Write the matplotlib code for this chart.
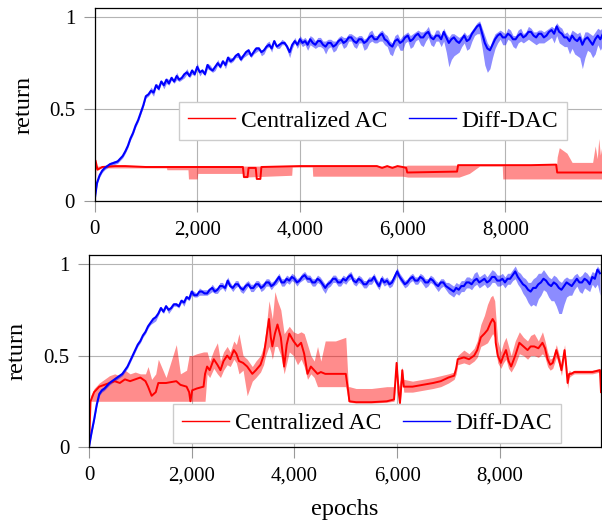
import matplotlib
matplotlib.use("Agg")
import matplotlib.pyplot as plt
import numpy as np

# ---------------- data ----------------
xticks = [0, 2000, 4000, 6000, 8000]
xtick_labels = ["0", "2,000", "4,000", "6,000", "8,000"]
yticks = [0, 0.5, 1]
ytick_labels = ["0", "0.5", "1"]
series_names = ["Centralized AC", "Diff-DAC"]

# Diff-DAC epochs (every 50)
blue_epochs = list(range(0, 10000, 50))

# ---- top panel, Diff-DAC ----
top_blue_mean = [
    0.00, 0.10, 0.14, 0.165, 0.18, 0.19, 0.20, 0.205, 0.21, 0.215,
    0.23, 0.245, 0.27, 0.30, 0.34, 0.37, 0.41, 0.44, 0.48, 0.52,
    0.57, 0.58, 0.60, 0.59, 0.63, 0.61, 0.65, 0.63, 0.66, 0.64,
    0.67, 0.65, 0.68, 0.66, 0.67, 0.69, 0.70, 0.68, 0.71, 0.69,
    0.73, 0.70, 0.71, 0.69, 0.74, 0.72, 0.71, 0.73, 0.75, 0.73,
    0.76, 0.74, 0.78, 0.76, 0.77, 0.79, 0.80, 0.77, 0.79, 0.81,
    0.82, 0.79, 0.81, 0.83, 0.83, 0.81, 0.82, 0.84, 0.85, 0.83,
    0.87, 0.84, 0.85, 0.86, 0.86, 0.84, 0.81, 0.85, 0.87, 0.85,
    0.88, 0.86, 0.87, 0.85, 0.88, 0.86, 0.85, 0.87, 0.87, 0.85,
    0.84, 0.86, 0.86, 0.84, 0.85, 0.87, 0.88, 0.86, 0.87, 0.89,
    0.89, 0.87, 0.86, 0.88, 0.88, 0.86, 0.87, 0.89, 0.90, 0.88,
    0.88, 0.90, 0.91, 0.88, 0.87, 0.85, 0.84, 0.87, 0.88, 0.86,
    0.87, 0.89, 0.90, 0.87, 0.88, 0.90, 0.91, 0.89, 0.89, 0.91,
    0.92, 0.89, 0.88, 0.90, 0.90, 0.88, 0.92, 0.89, 0.86, 0.88,
    0.89, 0.87, 0.86, 0.88, 0.90, 0.87, 0.88, 0.91, 0.93, 0.95,
    0.96, 0.91, 0.86, 0.83, 0.82, 0.85, 0.88, 0.90, 0.91, 0.89,
    0.89, 0.91, 0.90, 0.88, 0.88, 0.90, 0.91, 0.89, 0.90, 0.92,
    0.92, 0.90, 0.89, 0.91, 0.91, 0.89, 0.90, 0.92, 0.93, 0.91,
    0.95, 0.92, 0.91, 0.89, 0.89, 0.87, 0.90, 0.88, 0.87, 0.89,
    0.85, 0.88, 0.89, 0.87, 0.85, 0.88, 0.90, 0.88, 0.91, 0.90]
top_blue_down = [
    0.00, 0.01, 0.01, 0.01, 0.01, 0.01, 0.01, 0.01, 0.01, 0.01,
    0.01, 0.01, 0.01, 0.01, 0.01, 0.01, 0.01, 0.01, 0.01, 0.01,
    0.01, 0.01, 0.01, 0.02, 0.01, 0.01, 0.01, 0.02, 0.02, 0.01,
    0.01, 0.01, 0.02, 0.01, 0.01, 0.02, 0.01, 0.01, 0.02, 0.01,
    0.01, 0.02, 0.01, 0.01, 0.02, 0.01, 0.01, 0.02, 0.01, 0.01,
    0.01, 0.02, 0.02, 0.01, 0.01, 0.01, 0.02, 0.01, 0.01, 0.02,
    0.02, 0.01, 0.01, 0.02, 0.01, 0.02, 0.02, 0.01, 0.01, 0.02,
    0.01, 0.01, 0.02, 0.01, 0.01, 0.02, 0.03, 0.02, 0.01, 0.02,
    0.02, 0.02, 0.02, 0.03, 0.03, 0.02, 0.02, 0.03, 0.03, 0.02,
    0.04, 0.03, 0.02, 0.03, 0.03, 0.02, 0.02, 0.03, 0.03, 0.02,
    0.02, 0.03, 0.03, 0.02, 0.02, 0.04, 0.04, 0.03, 0.03, 0.02,
    0.02, 0.03, 0.04, 0.03, 0.03, 0.05, 0.05, 0.04, 0.03, 0.04,
    0.05, 0.03, 0.03, 0.04, 0.04, 0.03, 0.03, 0.04, 0.05, 0.04,
    0.03, 0.04, 0.04, 0.03, 0.03, 0.04, 0.05, 0.08, 0.13, 0.11,
    0.10, 0.07, 0.05, 0.04, 0.04, 0.05, 0.05, 0.04, 0.03, 0.04,
    0.05, 0.08, 0.12, 0.13, 0.10, 0.07, 0.05, 0.04, 0.03, 0.04,
    0.04, 0.03, 0.03, 0.04, 0.05, 0.04, 0.04, 0.03, 0.03, 0.04,
    0.05, 0.04, 0.04, 0.05, 0.05, 0.03, 0.03, 0.04, 0.04, 0.05,
    0.05, 0.06, 0.06, 0.05, 0.05, 0.07, 0.07, 0.08, 0.08, 0.11,
    0.13, 0.10, 0.07, 0.06, 0.07, 0.08, 0.05, 0.06, 0.06, 0.05]
top_blue_up = [
    0.00, 0.01, 0.01, 0.01, 0.01, 0.01, 0.01, 0.01, 0.01, 0.01,
    0.01, 0.01, 0.01, 0.01, 0.01, 0.01, 0.01, 0.01, 0.01, 0.01,
    0.01, 0.01, 0.02, 0.01, 0.01, 0.02, 0.01, 0.01, 0.01, 0.02,
    0.01, 0.01, 0.02, 0.01, 0.01, 0.01, 0.02, 0.01, 0.01, 0.01,
    0.02, 0.01, 0.01, 0.01, 0.01, 0.02, 0.01, 0.01, 0.02, 0.01,
    0.01, 0.01, 0.01, 0.02, 0.01, 0.01, 0.01, 0.02, 0.01, 0.01,
    0.01, 0.01, 0.02, 0.01, 0.01, 0.01, 0.01, 0.02, 0.02, 0.01,
    0.01, 0.01, 0.01, 0.02, 0.01, 0.01, 0.01, 0.01, 0.02, 0.01,
    0.02, 0.02, 0.02, 0.02, 0.02, 0.03, 0.02, 0.02, 0.02, 0.02,
    0.03, 0.02, 0.02, 0.03, 0.02, 0.02, 0.02, 0.03, 0.02, 0.02,
    0.02, 0.03, 0.03, 0.02, 0.02, 0.02, 0.02, 0.03, 0.03, 0.02,
    0.02, 0.02, 0.02, 0.03, 0.03, 0.02, 0.02, 0.03, 0.03, 0.02,
    0.03, 0.02, 0.02, 0.03, 0.03, 0.02, 0.02, 0.03, 0.03, 0.02,
    0.03, 0.02, 0.02, 0.03, 0.03, 0.02, 0.02, 0.02, 0.03, 0.03,
    0.02, 0.03, 0.03, 0.02, 0.02, 0.03, 0.03, 0.02, 0.02, 0.02,
    0.02, 0.03, 0.04, 0.03, 0.02, 0.03, 0.03, 0.02, 0.02, 0.03,
    0.02, 0.03, 0.03, 0.02, 0.02, 0.03, 0.03, 0.02, 0.02, 0.03,
    0.02, 0.02, 0.03, 0.02, 0.02, 0.03, 0.03, 0.02, 0.02, 0.03,
    0.02, 0.03, 0.03, 0.02, 0.03, 0.03, 0.03, 0.04, 0.04, 0.03,
    0.03, 0.04, 0.03, 0.04, 0.05, 0.04, 0.04, 0.05, 0.04, 0.05]

# ---- top panel, Centralized AC ----
top_red_x = [0, 20, 60, 150, 400, 600, 1000, 2890, 2910, 2980, 3000, 3140,
             3160, 3230, 3250, 4000, 5500, 5600, 5700, 5800, 5900, 6000,
             6070, 6090, 7060, 7080, 8500, 8990, 9010, 9970]
top_red_mean = [0.00, 0.22, 0.17, 0.185, 0.19, 0.19, 0.185, 0.185, 0.13, 0.13,
                0.18, 0.18, 0.12, 0.12, 0.185, 0.19, 0.19, 0.18, 0.19, 0.18,
                0.19, 0.185, 0.18, 0.155, 0.16, 0.195, 0.195, 0.198, 0.155, 0.155]
top_red_band_x = [0, 60, 1400, 1410, 1820, 1830, 2000, 2010, 2900, 2910, 3840,
                  3850, 4240, 4250, 6000, 6100, 7100, 7300, 7500, 7940, 7950,
                  9000, 9010, 9050, 9100, 9200, 9300, 9500, 9700, 9750, 9790,
                  9820, 9850, 9900, 9970]
top_red_lo = [0.00, 0.18, 0.18, 0.17, 0.17, 0.12, 0.12, 0.15, 0.15, 0.13, 0.14,
              0.185, 0.185, 0.135, 0.135, 0.13, 0.13, 0.15, 0.19, 0.19, 0.12,
              0.12, 0.12, 0.12, 0.12, 0.12, 0.12, 0.12, 0.12, 0.12, 0.12,
              0.12, 0.12, 0.12, 0.12]
top_red_hi = [0.00, 0.19, 0.19, 0.19, 0.19, 0.19, 0.19, 0.19, 0.19, 0.19, 0.19,
              0.19, 0.19, 0.19, 0.19, 0.195, 0.195, 0.195, 0.195, 0.198, 0.198,
              0.20, 0.24, 0.29, 0.28, 0.26, 0.21, 0.21, 0.21, 0.30, 0.23,
              0.34, 0.25, 0.33, 0.26]

# ---- bottom panel, Diff-DAC ----
bot_blue_mean = [
    0.00, 0.08, 0.15, 0.23, 0.29, 0.31, 0.32, 0.335, 0.35, 0.36,
    0.37, 0.38, 0.39, 0.40, 0.42, 0.44, 0.47, 0.50, 0.53, 0.56,
    0.58, 0.61, 0.63, 0.66, 0.68, 0.70, 0.71, 0.73, 0.76, 0.74,
    0.77, 0.75, 0.76, 0.78, 0.78, 0.77, 0.80, 0.79, 0.82, 0.81,
    0.85, 0.83, 0.83, 0.85, 0.85, 0.84, 0.84, 0.86, 0.87, 0.85,
    0.86, 0.88, 0.88, 0.87, 0.91, 0.88, 0.87, 0.89, 0.89, 0.87,
    0.86, 0.88, 0.89, 0.87, 0.87, 0.89, 0.89, 0.87, 0.88, 0.90,
    0.90, 0.88, 0.89, 0.91, 0.93, 0.90, 0.90, 0.92, 0.91, 0.93,
    0.92, 0.90, 0.91, 0.93, 0.94, 0.92, 0.92, 0.90, 0.90, 0.92,
    0.91, 0.89, 0.87, 0.89, 0.90, 0.92, 0.92, 0.90, 0.90, 0.92,
    0.91, 0.93, 0.94, 0.91, 0.90, 0.92, 0.91, 0.89, 0.89, 0.91,
    0.91, 0.93, 0.90, 0.88, 0.92, 0.90, 0.91, 0.89, 0.90, 0.93,
    0.96, 0.93, 0.91, 0.89, 0.90, 0.92, 0.93, 0.91, 0.91, 0.93,
    0.92, 0.90, 0.90, 0.92, 0.91, 0.89, 0.88, 0.90, 0.90, 0.88,
    0.87, 0.86, 0.85, 0.87, 0.86, 0.88, 0.88, 0.90, 0.90, 0.89,
    0.91, 0.92, 0.90, 0.91, 0.92, 0.90, 0.91, 0.93, 0.93, 0.91,
    0.91, 0.92, 0.90, 0.92, 0.92, 0.94, 0.96, 0.93, 0.91, 0.89,
    0.88, 0.86, 0.85, 0.87, 0.87, 0.89, 0.90, 0.92, 0.91, 0.89,
    0.88, 0.90, 0.89, 0.87, 0.86, 0.88, 0.90, 0.89, 0.88, 0.90,
    0.92, 0.90, 0.90, 0.92, 0.91, 0.89, 0.93, 0.92, 0.97, 0.95]
bot_blue_down = [
    0.00, 0.01, 0.01, 0.01, 0.01, 0.01, 0.01, 0.01, 0.01, 0.01,
    0.01, 0.01, 0.01, 0.01, 0.01, 0.01, 0.01, 0.01, 0.01, 0.01,
    0.01, 0.01, 0.01, 0.01, 0.01, 0.02, 0.02, 0.01, 0.01, 0.01,
    0.01, 0.02, 0.01, 0.01, 0.01, 0.01, 0.01, 0.02, 0.01, 0.01,
    0.02, 0.01, 0.01, 0.02, 0.02, 0.01, 0.01, 0.02, 0.02, 0.01,
    0.02, 0.02, 0.01, 0.02, 0.02, 0.01, 0.02, 0.02, 0.01, 0.02,
    0.02, 0.02, 0.01, 0.02, 0.02, 0.02, 0.01, 0.02, 0.02, 0.02,
    0.02, 0.02, 0.01, 0.02, 0.02, 0.02, 0.02, 0.02, 0.02, 0.02,
    0.02, 0.02, 0.01, 0.02, 0.02, 0.02, 0.02, 0.02, 0.02, 0.02,
    0.02, 0.03, 0.03, 0.02, 0.02, 0.02, 0.02, 0.02, 0.02, 0.02,
    0.02, 0.02, 0.02, 0.02, 0.02, 0.02, 0.02, 0.02, 0.02, 0.02,
    0.02, 0.02, 0.02, 0.02, 0.02, 0.02, 0.02, 0.02, 0.02, 0.02,
    0.02, 0.02, 0.02, 0.02, 0.02, 0.02, 0.02, 0.02, 0.02, 0.02,
    0.03, 0.03, 0.02, 0.02, 0.02, 0.02, 0.03, 0.03, 0.02, 0.02,
    0.03, 0.03, 0.03, 0.03, 0.03, 0.03, 0.03, 0.03, 0.03, 0.03,
    0.03, 0.03, 0.03, 0.03, 0.03, 0.03, 0.03, 0.03, 0.03, 0.03,
    0.03, 0.03, 0.03, 0.03, 0.03, 0.03, 0.04, 0.04, 0.04, 0.05,
    0.06, 0.07, 0.08, 0.09, 0.10, 0.08, 0.07, 0.06, 0.06, 0.07,
    0.08, 0.10, 0.12, 0.14, 0.13, 0.10, 0.08, 0.06, 0.05, 0.04,
    0.04, 0.05, 0.06, 0.05, 0.05, 0.04, 0.04, 0.05, 0.08, 0.12]
bot_blue_up = [
    0.00, 0.01, 0.01, 0.01, 0.01, 0.01, 0.01, 0.01, 0.01, 0.01,
    0.01, 0.01, 0.01, 0.01, 0.01, 0.01, 0.01, 0.01, 0.01, 0.01,
    0.01, 0.01, 0.01, 0.01, 0.01, 0.01, 0.01, 0.01, 0.01, 0.01,
    0.01, 0.01, 0.01, 0.01, 0.01, 0.01, 0.01, 0.01, 0.01, 0.01,
    0.01, 0.02, 0.01, 0.02, 0.01, 0.02, 0.02, 0.01, 0.02, 0.02,
    0.01, 0.02, 0.02, 0.01, 0.02, 0.02, 0.01, 0.02, 0.02, 0.01,
    0.02, 0.02, 0.02, 0.02, 0.02, 0.02, 0.02, 0.02, 0.02, 0.02,
    0.02, 0.02, 0.02, 0.02, 0.02, 0.02, 0.02, 0.02, 0.02, 0.02,
    0.02, 0.02, 0.02, 0.02, 0.02, 0.02, 0.02, 0.02, 0.02, 0.02,
    0.02, 0.02, 0.02, 0.02, 0.02, 0.02, 0.02, 0.02, 0.02, 0.02,
    0.02, 0.02, 0.02, 0.02, 0.02, 0.02, 0.02, 0.02, 0.02, 0.02,
    0.02, 0.02, 0.02, 0.02, 0.02, 0.02, 0.02, 0.02, 0.02, 0.02,
    0.02, 0.02, 0.02, 0.02, 0.02, 0.02, 0.02, 0.02, 0.02, 0.02,
    0.02, 0.02, 0.02, 0.02, 0.02, 0.02, 0.02, 0.02, 0.02, 0.02,
    0.03, 0.03, 0.03, 0.03, 0.03, 0.03, 0.03, 0.03, 0.03, 0.03,
    0.04, 0.04, 0.03, 0.03, 0.03, 0.03, 0.04, 0.04, 0.03, 0.03,
    0.03, 0.03, 0.03, 0.03, 0.03, 0.03, 0.03, 0.03, 0.04, 0.04,
    0.04, 0.04, 0.05, 0.05, 0.06, 0.06, 0.05, 0.05, 0.04, 0.04,
    0.04, 0.04, 0.04, 0.04, 0.04, 0.04, 0.03, 0.03, 0.04, 0.04,
    0.03, 0.03, 0.04, 0.04, 0.04, 0.04, 0.03, 0.03, 0.02, 0.02]

# ---- bottom panel, Centralized AC ----
bot_red_x = [0, 30, 100, 200, 300, 400, 500, 600, 700, 800, 900, 1000, 1100,
             1150, 1220, 1300, 1350, 1500, 1700, 1780, 1900, 1950, 1975, 2010,
             2100, 2230, 2260, 2300, 2350, 2430, 2500, 2560, 2620, 2690, 2750,
             2820, 2870, 2920, 3000, 3080, 3180, 3250, 3340, 3400, 3440, 3505,
             3540, 3570, 3620, 3670, 3735, 3800, 3850, 3900, 3980, 4060, 4130,
             4190, 4255, 4320, 4385, 4450, 4514, 4600, 4800, 5000, 5050, 5070,
             5200, 5500, 5800, 5940, 5990, 6030, 6055, 6080, 6100, 6130, 6300,
             6500, 6700, 6850, 7000, 7110, 7150, 7180, 7300, 7400, 7500, 7560,
             7630, 7700, 7760, 7820, 7860, 7900, 7920, 7960, 8020, 8070, 8120,
             8170, 8220, 8300, 8380, 8460, 8540, 8600, 8670, 8750, 8830, 8880,
             8930, 8980, 9030, 9100, 9150, 9200, 9260, 9290, 9320, 9350, 9390,
             9450, 9600, 9800, 9950, 9970]
bot_red_mean = [0.00, 0.25, 0.30, 0.33, 0.34, 0.35, 0.36, 0.35, 0.37, 0.36, 0.37,
                0.38, 0.36, 0.33, 0.28, 0.30, 0.35, 0.35, 0.36, 0.34, 0.33, 0.30,
                0.25, 0.31, 0.32, 0.33, 0.40, 0.44, 0.42, 0.48, 0.45, 0.42, 0.47,
                0.50, 0.48, 0.53, 0.51, 0.47, 0.46, 0.44, 0.40, 0.42, 0.45, 0.50,
                0.57, 0.70, 0.60, 0.55, 0.62, 0.67, 0.60, 0.44, 0.56, 0.62, 0.58,
                0.55, 0.57, 0.51, 0.40, 0.44, 0.42, 0.40, 0.41, 0.40, 0.40, 0.40,
                0.30, 0.25, 0.245, 0.245, 0.25, 0.26, 0.46, 0.30, 0.24, 0.33, 0.42,
                0.33, 0.33, 0.34, 0.35, 0.36, 0.38, 0.39, 0.43, 0.48, 0.49, 0.48,
                0.50, 0.53, 0.60, 0.62, 0.64, 0.68, 0.70, 0.68, 0.57, 0.50, 0.46,
                0.50, 0.53, 0.47, 0.44, 0.50, 0.57, 0.55, 0.53, 0.55, 0.55, 0.54,
                0.57, 0.54, 0.48, 0.45, 0.46, 0.53, 0.48, 0.42, 0.53, 0.45, 0.35,
                0.40, 0.40, 0.41, 0.41, 0.41, 0.42, 0.30]
bot_red_lo = [0.00, 0.25, 0.25, 0.25, 0.25, 0.25, 0.25, 0.25, 0.25, 0.25, 0.25,
              0.25, 0.25, 0.25, 0.25, 0.25, 0.25, 0.25, 0.25, 0.25, 0.25, 0.25,
              0.25, 0.25, 0.25, 0.25, 0.25, 0.40, 0.38, 0.43, 0.40, 0.38, 0.42,
              0.45, 0.44, 0.48, 0.46, 0.40, 0.42, 0.28, 0.36, 0.38, 0.41, 0.45,
              0.50, 0.55, 0.52, 0.48, 0.55, 0.55, 0.50, 0.40, 0.46, 0.52, 0.50,
              0.45, 0.48, 0.44, 0.37, 0.40, 0.38, 0.33, 0.33, 0.33, 0.33, 0.33,
              0.25, 0.245, 0.24, 0.24, 0.245, 0.25, 0.42, 0.28, 0.23, 0.30, 0.38,
              0.30, 0.30, 0.31, 0.32, 0.33, 0.35, 0.37, 0.40, 0.45, 0.46, 0.45,
              0.47, 0.49, 0.55, 0.56, 0.57, 0.60, 0.62, 0.60, 0.53, 0.46, 0.43,
              0.46, 0.48, 0.43, 0.41, 0.45, 0.51, 0.50, 0.48, 0.50, 0.50, 0.49,
              0.51, 0.49, 0.44, 0.42, 0.43, 0.49, 0.45, 0.39, 0.50, 0.42, 0.32,
              0.38, 0.39, 0.40, 0.40, 0.40, 0.41, 0.28]
bot_red_hi = [0.00, 0.28, 0.32, 0.35, 0.37, 0.39, 0.40, 0.39, 0.42, 0.40, 0.41,
              0.40, 0.40, 0.44, 0.37, 0.40, 0.48, 0.38, 0.56, 0.40, 0.42, 0.50,
              0.50, 0.50, 0.51, 0.52, 0.52, 0.52, 0.47, 0.53, 0.57, 0.47, 0.52,
              0.55, 0.52, 0.58, 0.56, 0.62, 0.50, 0.48, 0.44, 0.47, 0.50, 0.55,
              0.63, 0.80, 0.75, 0.70, 0.85, 0.80, 0.75, 0.62, 0.64, 0.66, 0.63,
              0.62, 0.63, 0.62, 0.56, 0.50, 0.47, 0.55, 0.47, 0.58, 0.58, 0.60,
              0.33, 0.33, 0.32, 0.32, 0.33, 0.33, 0.46, 0.33, 0.36, 0.38, 0.44,
              0.37, 0.36, 0.37, 0.38, 0.39, 0.40, 0.41, 0.46, 0.50, 0.53, 0.51,
              0.54, 0.58, 0.67, 0.72, 0.78, 0.82, 0.83, 0.80, 0.72, 0.58, 0.52,
              0.57, 0.60, 0.55, 0.50, 0.58, 0.63, 0.60, 0.58, 0.61, 0.62, 0.58,
              0.63, 0.58, 0.52, 0.48, 0.49, 0.56, 0.51, 0.45, 0.56, 0.48, 0.38,
              0.42, 0.41, 0.42, 0.42, 0.42, 0.43, 0.32]

# ---------------- style ----------------
plt.rcParams['font.family'] = ['Liberation Serif', 'DejaVu Serif']
plt.rcParams['font.size'] = 15

RED = '#ff0000'
BLUE = '#0000ff'
W, H = 602, 523
fig = plt.figure(figsize=(W / 100, H / 100), dpi=100)

def px_axes(left, right, top, bottom):
    return fig.add_axes([left / W, 1 - bottom / H, (right - left) / W, (bottom - top) / H])

ax_top = px_axes(94.5, 606.5, 8, 201)
ax_bot = px_axes(89, 601, 255, 447)

def draw(ax, rx, rmean, rbx, rlo, rhi, bmean, bdown, bup):
    bm = np.array(bmean)
    ax.fill_between(rbx, rlo, rhi, color=RED, alpha=0.45, lw=0)
    ax.plot(rx, rmean, color=RED, lw=1.4, label=series_names[0])
    ax.fill_between(blue_epochs, bm - np.array(bdown), bm + np.array(bup),
                    color=BLUE, alpha=0.45, lw=0)
    ax.plot(blue_epochs, bm, color=BLUE, lw=1.5, label=series_names[1])
    ax.set_xlim(0, 9970)
    ax.set_ylim(0, 1.05)
    ax.set_xticks(xticks)
    ax.set_xticklabels(xtick_labels)
    ax.set_yticks(yticks)
    ax.set_yticklabels(ytick_labels)
    ax.grid(True, color='#b4b4b4', lw=0.8)
    ax.set_axisbelow(True)
    ax.tick_params(length=8, width=0.8, color='#999999', pad=6, labelsize=15)
    for s in ax.spines.values():
        s.set_linewidth(0.9)
        s.set_color('black')

draw(ax_top, top_red_x, top_red_mean, top_red_band_x, top_red_lo, top_red_hi,
     top_blue_mean, top_blue_down, top_blue_up)
draw(ax_bot, bot_red_x, bot_red_mean, bot_red_x, bot_red_lo, bot_red_hi,
     bot_blue_mean, bot_blue_down, bot_blue_up)

fig.text(24 / W, 1 - 104.5 / H, 'return', rotation=90, ha='center', va='center', fontsize=17.5)
fig.text(17 / W, 1 - 351 / H, 'return', rotation=90, ha='center', va='center', fontsize=17.5)
fig.text(345 / W, 1 - 510 / H, 'epochs', ha='center', va='center', fontsize=17.5)

for ax, anchor in [(ax_top, (373 / W, 1 - 121 / H)), (ax_bot, (367 / W, 1 - 423.5 / H))]:
    leg = ax.legend(ncol=2, loc='center', bbox_to_anchor=anchor,
                    bbox_transform=fig.transFigure, fancybox=False,
                    edgecolor='#cccccc', framealpha=1, handlelength=2.0,
                    columnspacing=0.9, handletextpad=0.25, borderpad=0.35,
                    fontsize=17)
    leg.get_frame().set_linewidth(1.0)
    for l in leg.get_lines():
        l.set_linewidth(1.0)

fig.savefig('out.png', dpi=100)
